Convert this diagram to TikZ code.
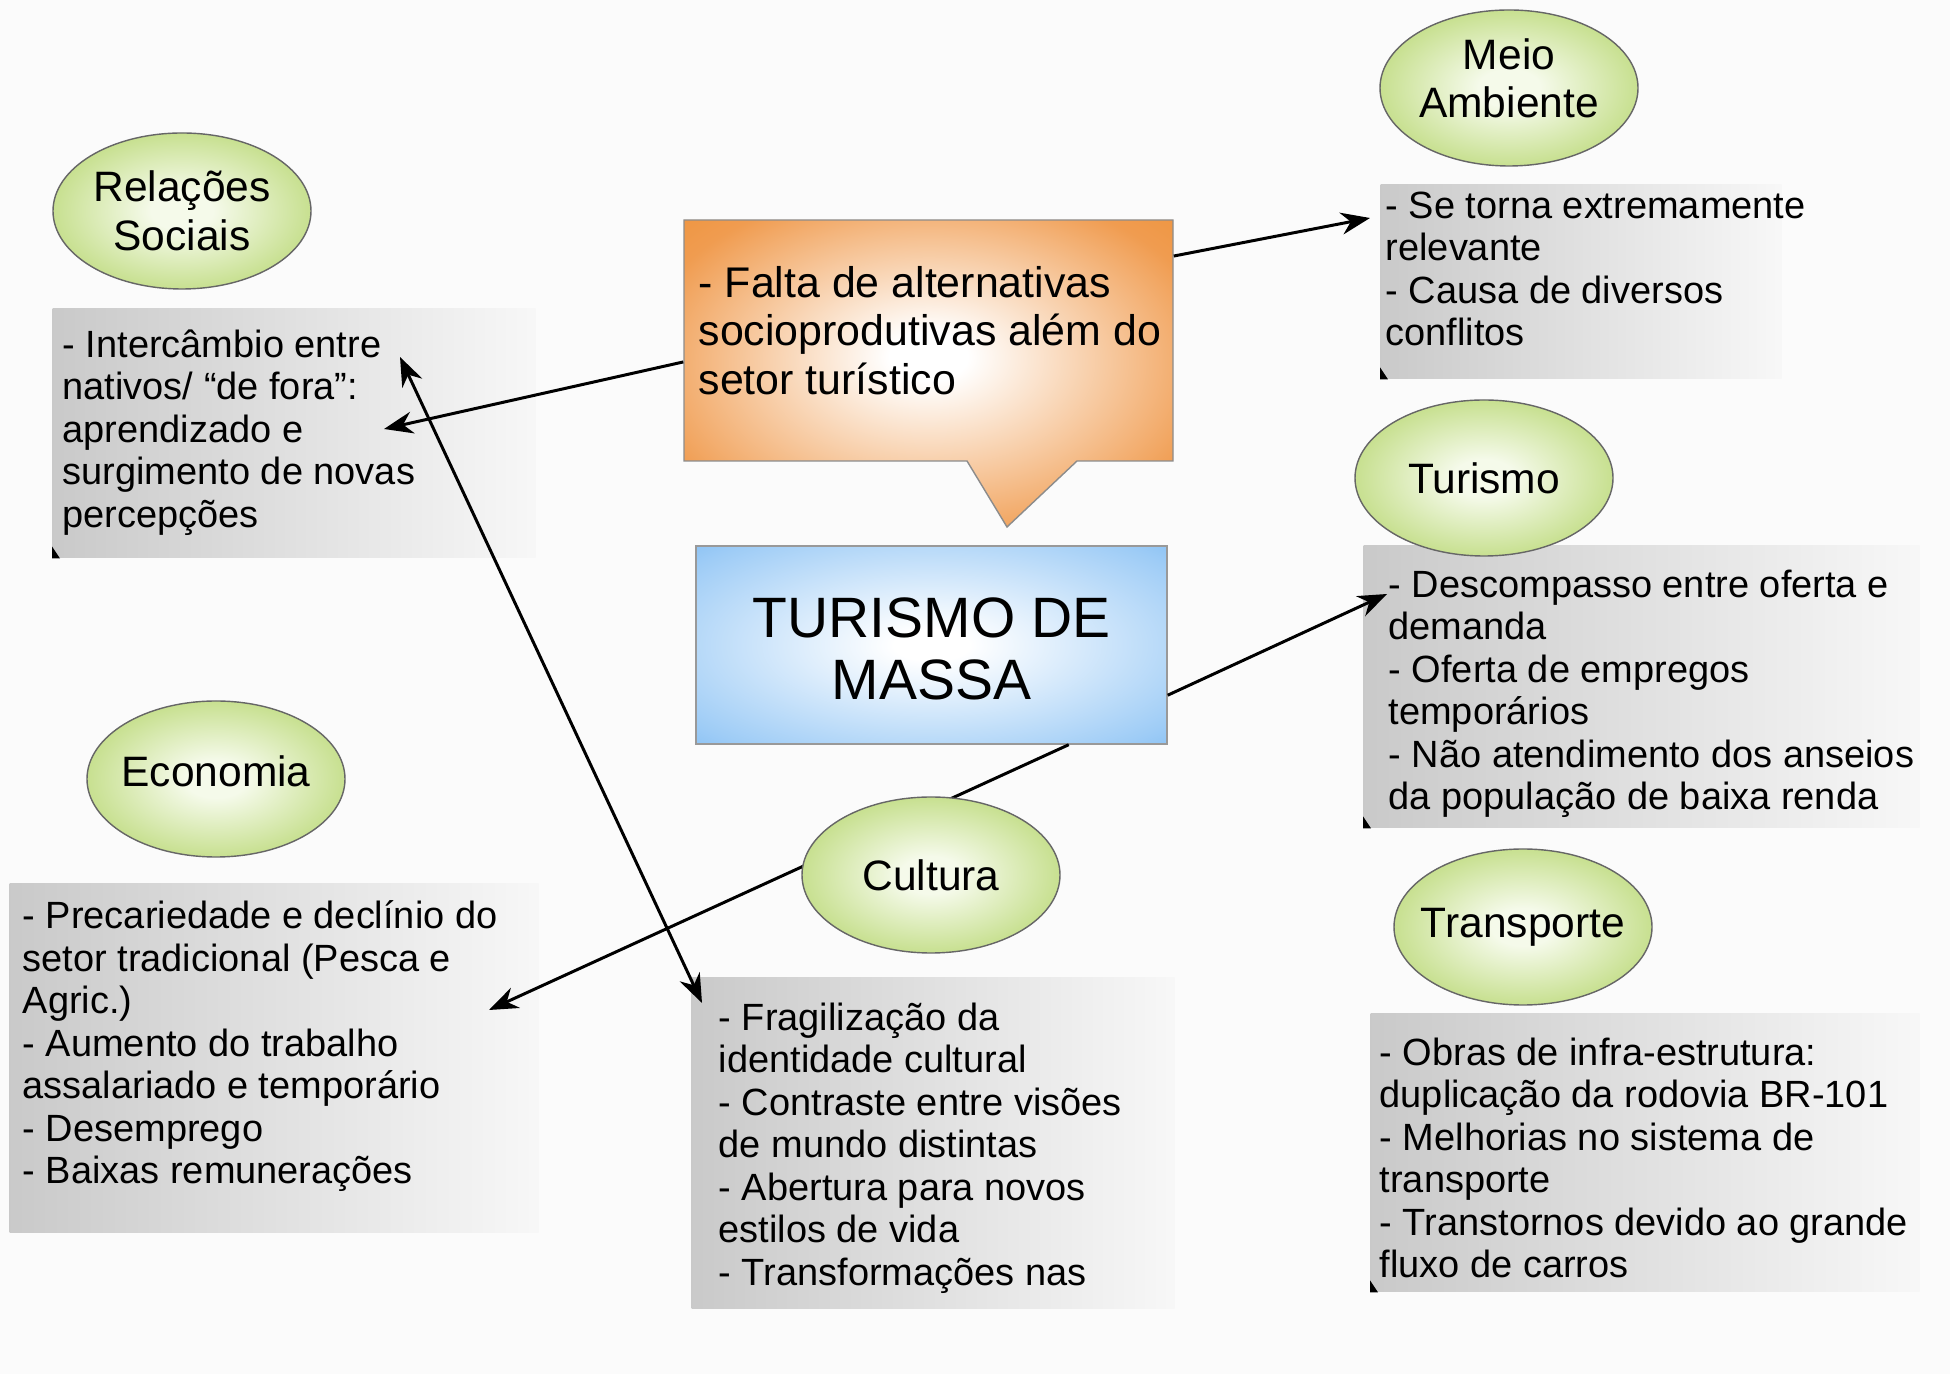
\documentclass[tikz,border=0pt]{standalone}
\usepackage{fontspec}
\setmainfont{Liberation Sans}
\usepackage{tikz}
\usetikzlibrary{arrows.meta}
\usetikzlibrary{shapes.geometric}

\definecolor{bgcol}{RGB}{251,251,251}
\definecolor{orgedge}{RGB}{240,156,80}
\definecolor{orgdeep}{RGB}{235,134,30}
\definecolor{bluedge}{RGB}{158,204,246}
\definecolor{bludeep}{RGB}{84,164,238}
\definecolor{grnedge}{RGB}{168,206,82}
\definecolor{grncore}{RGB}{245,250,234}

\pgfdeclareradialshading{flameglow}{\pgfpoint{0bp}{3bp}}{color(0bp)=(white); color(4bp)=(white); color(30bp)=(orgedge); color(50bp)=(orgdeep)}
\pgfdeclareradialshading{skyglow}{\pgfpointorigin}{color(0bp)=(white); color(4bp)=(white); color(32bp)=(bluedge); color(50bp)=(bludeep)}
\pgfdeclareradialshading{leafglow}{\pgfpointorigin}{color(0bp)=(grncore); color(6bp)=(grncore); color(38bp)=(grnedge); color(50bp)=(grnedge)}

\begin{document}
\begin{tikzpicture}[x=0.1mm,y=-0.1mm,>={Stealth[length=2.9mm,width=2.2mm]},
	link/.style={->, line width=0.85pt},
	topic/.style={ellipse, draw=black!60, line width=0.4pt, shade, shading=leafglow,
		minimum width=25.8mm, minimum height=15.6mm, inner sep=0pt, align=center,
		font=\fontsize{12.1}{13.8}\selectfont},
	infobox/.style={rectangle, anchor=north west, inner sep=0pt, left color=black!21, right color=black!3},
	infotext/.style={anchor=north west, inner sep=0pt, align=left,
		font=\fontsize{10.8}{12.1}\selectfont, execute at begin node=\strut}]
	
	\def\lbl#1{\makebox[0pt]{#1}}
	
	\fill[bgcol] (0,0) rectangle (1950,1374);
	
	\node[infobox, minimum width=48.3mm, minimum height=24.9mm] (relbox) at (52,308) {};
	\node[infobox, minimum width=40.1mm, minimum height=19.4mm] (meiobox) at (1380,184) {};
	\node[infobox, minimum width=55.6mm, minimum height=28.2mm] (turbox) at (1363,545) {};
	\node[infobox, minimum width=54.9mm, minimum height=27.8mm] (transbox) at (1370,1013) {};
	\node[infobox, minimum width=52.9mm, minimum height=34.9mm] (ecobox) at (9,883) {};
	\node[infobox, minimum width=48.3mm, minimum height=33.1mm] (cultbox) at (691,977) {};
	\foreach \b in {relbox,meiobox,turbox,transbox}
		\fill (\b.south west) -- ++(0,-12) -- ++(8,12) -- cycle;
	
	\path[draw=black!45, line width=0.4pt, shade, shading=flameglow] (684,220) -- (1173,220) -- (1173,461)
		-- (1077,461) -- (1007,527) -- (967,461) -- (684,461) -- cycle;
	\node[minimum width=48.9mm, minimum height=24.1mm, inner sep=0pt] (falta) at (928.5,340.5) {};
	\node[draw=black!40, line width=0.4pt, shade, shading=skyglow, minimum width=47.1mm, minimum height=19.8mm,
		inner sep=0pt] (massa) at (931.5,645) {};
	\node[align=center, font=\fontsize{16.2}{17.6}\selectfont] (massatxt) at (931.5,649) {TURISMO DE\\MASSA};
	
	\coordinate (reltip) at (384,429);
	\coordinate (meiotip) at (1370,218);
	\coordinate (reltop) at (400,357);
	\coordinate (culttip) at (702,1003);
	\coordinate (ecotip) at (489,1010);
	\coordinate (turtip) at (1387,594);
	
	\draw[link] (falta.185) -- (reltip);
	\draw[link] (falta.19) -- (meiotip);
	\draw[link, <->] (reltop) -- (culttip);
	\draw[link] (massa.-36) -- (ecotip);
	\draw[link] (massa.-12) -- (turtip);
	
	\node[topic] (rel) at (182,211) {\lbl{Relações}\\\lbl{Sociais}};
	\node[topic, text depth=2mm] (meio) at (1509,88) {\lbl{Meio}\\\lbl{Ambiente}};
	\node[topic] (tur) at (1484,478) {\lbl{Turismo}};
	\node[topic] (trans) at (1523,927) {\lbl{Transporte}};
	\node[topic, text depth=1.6mm] (eco) at (216,779) {\lbl{Economia}};
	\node[topic] (cult) at (931,875) {\lbl{Cultura}};
	
	\node[anchor=north west, inner sep=0pt, align=left, font=\fontsize{12.2}{13.7}\selectfont,
		execute at begin node=\strut] (faltatxt) at (698,266)
		{- Falta de alternativas\\socioprodutivas além do\\setor turístico};
	
	\node[infotext] (reltxt) at (62,329) {- Intercâmbio entre\\nativos/ “de fora”:\\aprendizado e\\surgimento de novas\\percepções};
	\node[infotext] (meiotxt) at (1385,191) {- Se torna extremamente\\relevante\\- Causa de diversos\\conflitos};
	\node[infotext] (turtxt) at (1388,569) {- Descompasso entre oferta e\\demanda\\- Oferta de empregos\\temporários\\- Não atendimento dos anseios\\da população de baixa renda};
	\node[infotext] (transtxt) at (1379,1037) {- Obras de infra-estrutura:\\duplicação da rodovia BR-101\\- Melhorias no sistema de\\transporte\\- Transtornos devido ao grande\\fluxo de carros};
	\node[infotext] (ecotxt) at (22,900) {- Precariedade e declínio do\\setor tradicional (Pesca e\\Agric.)\\- Aumento do trabalho\\assalariado e temporário\\- Desemprego\\- Baixas remunerações};
	\node[infotext] (culttxt) at (718,1002) {- Fragilização da\\identidade cultural\\- Contraste entre visões\\de mundo distintas\\- Abertura para novos\\estilos de vida\\- Transformações nas};
\end{tikzpicture}
\end{document}
